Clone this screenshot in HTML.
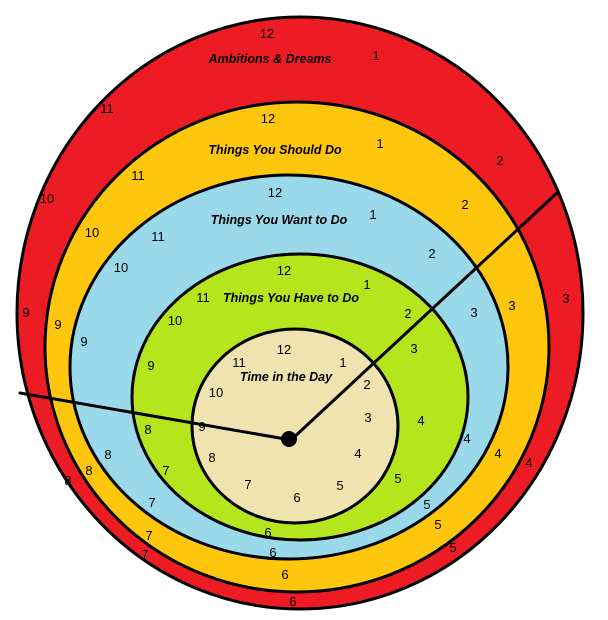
<!DOCTYPE html>
<html><head><style>html,body{margin:0;padding:0;background:#fff}svg{display:block}</style></head><body>
<svg width="608" height="620" viewBox="0 0 608 620" xmlns="http://www.w3.org/2000/svg">
<g stroke="#000" stroke-width="3">
<ellipse cx="300" cy="313" rx="283" ry="296" fill="#ed1c24"/>
<ellipse cx="297" cy="347" rx="252" ry="245" fill="#ffc60e"/>
<ellipse cx="289" cy="367" rx="219" ry="192" fill="#99d9ea"/>
<ellipse cx="300" cy="397" rx="168" ry="143" fill="#b5e61d"/>
<ellipse cx="295" cy="426" rx="103" ry="97" fill="#efe4b0"/>
</g>
<g font-family="Liberation Sans, sans-serif" font-size="13" text-anchor="middle" fill="#000">
<text x="267" y="38">12</text><text x="376" y="60">1</text><text x="500" y="165">2</text><text x="566" y="303">3</text><text x="529" y="467">4</text><text x="453" y="552">5</text><text x="293" y="606">6</text><text x="145" y="559">7</text><text x="68" y="485">8</text><text x="26" y="317">9</text><text x="47" y="203">10</text><text x="107" y="113">11</text>
<text x="268" y="123">12</text><text x="380" y="148">1</text><text x="465" y="209">2</text><text x="512" y="310">3</text><text x="498" y="458">4</text><text x="438" y="529">5</text><text x="285" y="579">6</text><text x="149" y="540">7</text><text x="89" y="475">8</text><text x="58" y="329">9</text><text x="92" y="237">10</text><text x="138" y="180">11</text>
<text x="275" y="197">12</text><text x="373" y="219">1</text><text x="432" y="258">2</text><text x="474" y="317">3</text><text x="467" y="443">4</text><text x="427" y="509">5</text><text x="273" y="557">6</text><text x="152" y="507">7</text><text x="108" y="459">8</text><text x="84" y="346">9</text><text x="121" y="272">10</text><text x="158" y="241">11</text>
<text x="284" y="275">12</text><text x="367" y="289">1</text><text x="408" y="318">2</text><text x="414" y="353">3</text><text x="421" y="425">4</text><text x="398" y="483">5</text><text x="268" y="537">6</text><text x="166" y="475">7</text><text x="148" y="434">8</text><text x="151" y="370">9</text><text x="175" y="325">10</text><text x="203" y="302">11</text>
<text x="284" y="354">12</text><text x="343" y="367">1</text><text x="367" y="389">2</text><text x="368" y="422">3</text><text x="358" y="458">4</text><text x="340" y="490">5</text><text x="297" y="502">6</text><text x="248" y="489">7</text><text x="212" y="462">8</text><text x="202" y="431">9</text><text x="216" y="397">10</text><text x="239" y="367">11</text>
</g>
<g font-family="Liberation Sans, sans-serif" font-size="12.5" font-style="italic" font-weight="bold" text-anchor="middle" fill="#000">
<text x="270" y="63">Ambitions &amp; Dreams</text>
<text x="275" y="154">Things You Should Do</text>
<text x="279" y="224">Things You Want to Do</text>
<text x="291" y="302">Things You Have to Do</text>
<text x="286" y="381">Time in the Day</text>
</g>
<g stroke="#000" stroke-width="3" stroke-linecap="round">
<line x1="291" y1="440" x2="558" y2="192"/>
<line x1="291" y1="440" x2="20" y2="393"/>
</g>
<circle cx="289" cy="439" r="8" fill="#000"/>
</svg>
</body></html>
